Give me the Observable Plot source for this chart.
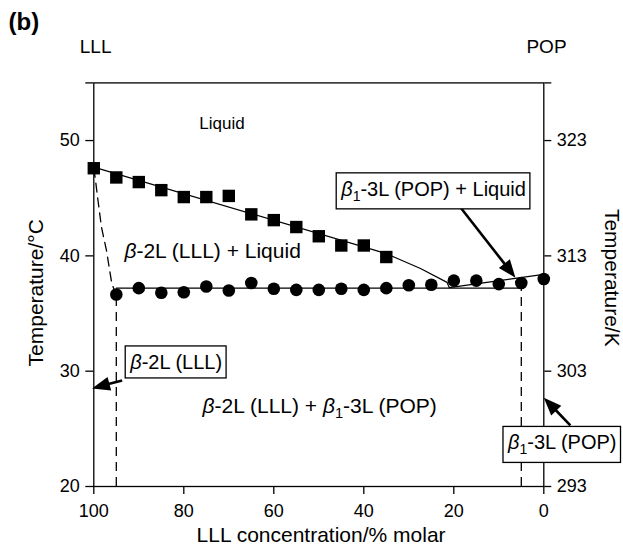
<!DOCTYPE html>
<html><head><meta charset="utf-8">
<script src="https://cdn.jsdelivr.net/npm/d3@7"></script>
<script src="https://cdn.jsdelivr.net/npm/@observablehq/plot@0.6"></script>
<style>html,body{margin:0;padding:0;background:#fff}svg{display:block}</style>
</head><body><div id="chart"></div>
<script>
// --- data (LLL concentration in % molar, temperature in °C) ---
const squareConc = [100,95,90,85,80,75,70,65,60,55,50,45,40,35];
const squareTemp = [47.6,46.8,46.4,45.7,45.1,45.1,45.2,43.6,43.1,42.5,41.7,40.9,40.9,39.9];
const circleConc = [95,90,85,80,75,70,65,60,55,50,45,40,35,30,25,20,15,10,5,0];
const circleTemp = [36.65,37.2,36.8,36.85,37.35,37.0,37.65,37.15,37.05,37.05,37.15,37.05,37.2,37.45,37.5,37.85,37.85,37.55,37.65,38.0];
const liquidusConc = [100,35,33.3,27.4,21.5,21];
const liquidusTemp = [47.7,40.2,39.9,38.9,37.7,37.25];
const popLiquidusConc = [21,0];
const popLiquidusTemp = [37.25,38.4];
const eutecticConc = [95,5];
const eutecticTemp = [37.2,37.2];
const solvusConc = [100,99.6,99.2,98.3,97.2,96,95];
const solvusTemp = [47.6,46.5,45.2,42.5,40.5,37.6,36.6];
const limitConc = [95,5];
const limitTop = [36.6,37.2];
const xTicks = [100,80,60,40,20,0];
const yTicksC = [20,30,40,50];
const yTicksK = [293,303,313,323];

const regionText = ["β-2L (LLL) + Liquid", "β-2L (LLL) + β₁-3L (POP)"];
const regionX = [73.6, 49.8];
const regionY = [40.4, 26.96];
const liquidText = ["Liquid"];
const boxText = ["β-2L (LLL)", "β₁-3L (POP) + Liquid", "β₁-3L (POP)"];
const boxX = [81.7, 24.5, -4.1];
const boxY = [30.75, 45.76, 23.77];
const arrowFrom = [[93.7,29.2],[18.5,44.2],[-5.9,25.3]];
const arrowTo = [[100.4,28.5],[6.3,38.1],[0,27.7]];
const endText = ["LLL","POP"];
const endX = [99.6,-0.6];

const line = (xs, ys) => xs.map((x,i) => ({x, y: ys[i]}));
const idx = a => a.map((_, i) => i);

const plot = Plot.plot({
  width: 623, height: 546,
  marginLeft: 93.3, marginRight: 79.7, marginTop: 82.4, marginBottom: 60,
  x: {domain: [100, 0]},
  y: {domain: [20, 55]},
  style: {fontFamily: "'Liberation Sans', Arial, sans-serif", fontSize: "18px", color: "black", background: "white"},
  marks: [
    Plot.frame({stroke: "black", strokeWidth: 1.3}),
    Plot.axisX({ticks: xTicks, tickSize: 8, tickPadding: 10, fontSize: 18, label: null, strokeWidth: 1.3}),
    Plot.axisY({ticks: [...yTicksC, 55], tickFormat: d => d === 55 ? "" : d, tickSize: 8, tickPadding: 6, fontSize: 18, label: null, strokeWidth: 1.3}),
    Plot.axisY({anchor: "right", ticks: [...yTicksC, 55], tickFormat: d => { const i = yTicksC.indexOf(d); return i < 0 ? "" : yTicksK[i]; }, tickSize: 7, tickPadding: 6, fontSize: 18, label: null, strokeWidth: 1.3}),
    // dashed boundaries
    Plot.line(line(solvusConc, solvusTemp), {x: "x", y: "y", stroke: "black", strokeWidth: 1.3, strokeDasharray: "9,6"}),
    Plot.ruleX(idx(limitConc), {x: i => limitConc[i], y1: 20, y2: i => limitTop[i], stroke: "black", strokeWidth: 1.3, strokeDasharray: "9,6"}),
    // solid boundaries
    Plot.line(line(liquidusConc, liquidusTemp), {x: "x", y: "y", stroke: "black", strokeWidth: 1.2}),
    Plot.line(line(popLiquidusConc, popLiquidusTemp), {x: "x", y: "y", stroke: "black", strokeWidth: 1.2}),
    Plot.line(line(eutecticConc, eutecticTemp), {x: "x", y: "y", stroke: "black", strokeWidth: 1.2}),
    // data points
    Plot.dot(idx(squareConc), {x: i => squareConc[i], y: i => squareTemp[i], symbol: "square", r: 7, fill: "black", stroke: "none"}),
    Plot.dot(idx(circleConc), {x: i => circleConc[i], y: i => circleTemp[i], symbol: "circle", r: 6.3, fill: "black", stroke: "none"}),
    // arrow shafts (heads added below)
    Plot.link(idx(arrowFrom), {x1: i => arrowFrom[i][0], y1: i => arrowFrom[i][1], x2: i => arrowTo[i][0], y2: i => arrowTo[i][1], stroke: "black", strokeWidth: 2.6}),
    // region labels
    Plot.text(liquidText, {x: 71.5, y: 51.5, fontSize: 17, fill: "black"}),
    Plot.text(regionText, {x: (d, i) => regionX[i], y: (d, i) => regionY[i], fontSize: 21, fill: "black"}),
    Plot.text(boxText, {x: (d, i) => boxX[i], y: (d, i) => boxY[i], fontSize: 20, fill: "black"}),
    // end-member labels and titles
    Plot.text(endText, {x: (d, i) => endX[i], y: 58.16, fontSize: 19, fill: "black"}),
    Plot.text(["(b)"], {x: 118.96, y: 60.27, fontSize: 24, fontWeight: "bold", textAnchor: "start", fill: "black"}),
    Plot.text(["LLL concentration/% molar"], {x: 49.5, y: 15.75, fontSize: 21, fill: "black"}),
    Plot.text(["Temperature/°C"], {x: 112.7, y: 36.8, rotate: -90, fontSize: 21, fill: "black"}),
    Plot.text(["Temperature/K"], {x: -15.0, y: 38.1, rotate: 90, fontSize: 21, fill: "black"})
  ]
});
document.getElementById("chart").appendChild(plot);

const NS = "http://www.w3.org/2000/svg";
const allTexts = Array.from(plot.querySelectorAll("text"));
const boxedEls = allTexts.filter(el => boxText.includes(el.textContent));
// rich text: italic beta and subscript 1
allTexts.forEach(el => {
  const s = el.textContent;
  if (!s.includes("β")) return;
  while (el.firstChild) el.removeChild(el.firstChild);
  let shifted = false;
  for (const part of s.split(/(β|₁)/)) {
    if (!part) continue;
    const t = document.createElementNS(NS, "tspan");
    if (part === "β") { t.setAttribute("font-style", "italic"); t.textContent = "β"; }
    else if (part === "₁") { t.setAttribute("font-size", "0.7em"); t.setAttribute("dy", "5"); t.textContent = "1"; shifted = true; }
    else { if (shifted) { t.setAttribute("dy", "-5"); shifted = false; } t.textContent = part; }
    el.appendChild(t);
  }
});
// boxes around boxed labels
boxedEls.forEach(el => {
  const b = el.getBBox();
  const r = document.createElementNS(NS, "rect");
  r.setAttribute("x", b.x - 4); r.setAttribute("y", b.y - 5);
  r.setAttribute("width", b.width + 8); r.setAttribute("height", b.height + 10);
  r.setAttribute("fill", "white"); r.setAttribute("stroke", "black"); r.setAttribute("stroke-width", "1.3");
  const tr = el.getAttribute("transform"); if (tr) r.setAttribute("transform", tr);
  el.parentNode.insertBefore(r, el);
});
// filled triangular arrow heads at the end of each link
plot.querySelectorAll('g[aria-label="link"] path').forEach(p => {
  const n = (p.getAttribute("d").match(/-?\d+(\.\d+)?(e-?\d+)?/g) || []).map(Number);
  if (n.length < 4) return;
  const [x1, y1] = [n[0], n[1]], [x2, y2] = [n[n.length - 2], n[n.length - 1]];
  const dx = x2 - x1, dy = y2 - y1, L = Math.hypot(dx, dy), ux = dx / L, uy = dy / L;
  const hl = 18, hw = 7;
  const bx = x2 - ux * hl, by = y2 - uy * hl;
  p.setAttribute("d", `M${x1},${y1}L${bx + ux * 2},${by + uy * 2}`);
  const tri = document.createElementNS(NS, "path");
  tri.setAttribute("d", `M${x2},${y2}L${bx - uy * hw},${by + ux * hw}L${bx + uy * hw},${by - ux * hw}Z`);
  tri.setAttribute("fill", "black"); tri.setAttribute("stroke", "none");
  p.parentNode.appendChild(tri);
});
</script></body></html>
